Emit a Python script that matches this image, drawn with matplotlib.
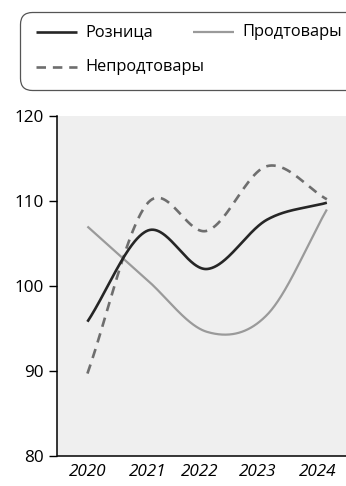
import numpy as np
import matplotlib
matplotlib.use("Agg")
import matplotlib.pyplot as plt
from matplotlib.patches import FancyBboxPatch
from matplotlib.lines import Line2D
from matplotlib.transforms import IdentityTransform

# ---- data ----
years = ["2020", "2021", "2022", "2023", "2024"]
retail = [95.8, 106.5, 102.0, 107.8, 109.8]      # Розница
food = [107.0, 100.7, 94.6, 96.6, 109.0]         # Продтовары
nonfood = [89.7, 109.7, 106.5, 114.1, 110.2]     # Непродтовары
labels = ["Розница", "Продтовары", "Непродтовары"]
yticks = [80, 90, 100, 110, 120]
# label placement positions along x (as laid out in the original)
xlabel_pos = [0.0, 1.0, 1.88, 2.84, 3.85]


def catmull_rom(y, n_seg=100):
    y = np.asarray(y, float)
    n = len(y)
    m = np.zeros(n)
    m[1:-1] = (y[2:] - y[:-2]) / 2
    m[0] = y[1] - y[0]
    m[-1] = y[-1] - y[-2]
    xs_all, ys_all = [], []
    t = np.linspace(0, 1, n_seg, endpoint=False)
    h00 = 2 * t**3 - 3 * t**2 + 1
    h10 = t**3 - 2 * t**2 + t
    h01 = -2 * t**3 + 3 * t**2
    h11 = t**3 - t**2
    for i in range(n - 1):
        xs_all.append(i + t)
        ys_all.append(h00 * y[i] + h10 * m[i] + h01 * y[i + 1] + h11 * m[i + 1])
    xs_all.append(np.array([n - 1.0]))
    ys_all.append(np.array([y[-1]]))
    return np.concatenate(xs_all), np.concatenate(ys_all)


plt.rcParams["font.family"] = ["Open Sans", "DejaVu Sans"]

W, H = 346, 486
fig = plt.figure(figsize=(W / 100, H / 100), dpi=100)
ax = fig.add_axes([57.5 / W, 30 / H, 1 - 57.5 / W, 340 / H])
ax.set_facecolor("#efefef")

styles = {
    "food": dict(color="#9a9a9a", lw=1.6, solid_capstyle="butt"),
    "non": dict(color="#6e6e6e", lw=1.9, dashes=(3.6, 2.6)),
    "ret": dict(color="#262626", lw=1.9, solid_capstyle="butt"),
}
ax.plot(*catmull_rom(food), **styles["food"])
ax.plot(*catmull_rom(nonfood), **styles["non"])
ax.plot(*catmull_rom(retail), **styles["ret"])

ax.set_xlim(-0.5, 4.32)
ax.set_ylim(80, 120)
ax.set_yticks(yticks)
ax.set_xticks(xlabel_pos)
ax.set_xticklabels(years, fontstyle="italic", fontsize=12.3)
ax.tick_params(axis="x", length=0, pad=6)
ax.tick_params(axis="y", length=6, width=1.0, pad=4, labelsize=12.3)
for s in ["top", "right"]:
    ax.spines[s].set_visible(False)
for s in ["left", "bottom"]:
    ax.spines[s].set_linewidth(1.1)
    ax.spines[s].set_color("black")

# legend frame (pixel coordinates, origin bottom-left)
box = FancyBboxPatch((20.5, H - 90.5), 340, 78,
                     boxstyle="round,pad=0,rounding_size=12",
                     transform=IdentityTransform(), facecolor="white",
                     edgecolor="#555555", lw=0.9)
fig.patches.append(box)


def fx(px):
    return px / W


def fy(py):
    return 1 - py / H


legend_items = [
    (labels[0], "ret", 36, 32),
    (labels[1], "food", 193, 32),
    (labels[2], "non", 36, 67),
]
for text, key, x0, y0 in legend_items:
    st = dict(styles[key])
    fig.lines.append(Line2D([fx(x0), fx(x0 + 41)], [fy(y0), fy(y0)],
                            transform=fig.transFigure, **st))
    fig.text(fx(x0 + 49), fy(y0), text, fontsize=11.8, va="center", ha="left")

fig.savefig("out.png", dpi=100)
